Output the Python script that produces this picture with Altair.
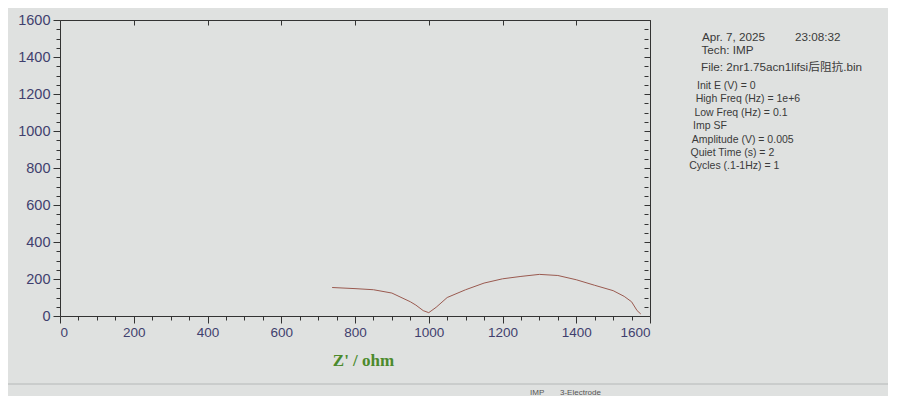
import altair as alt
import pandas as pd

# Nyquist data (Z' / ohm, -Z'' / ohm)
z_real = [738, 800, 850, 900, 950, 965, 985, 1000, 1020, 1050, 1100, 1150, 1200,
          1250, 1300, 1350, 1400, 1450, 1500, 1530, 1550, 1565, 1575]
z_imag = [154, 148, 142, 124, 77, 59, 29, 18, 47, 100, 142, 178, 201,
          214, 225, 219, 196, 166, 137, 106, 77, 29, 11]

tick_values = list(range(0, 1601, 50))
header_lines = ["Apr. 7, 2025", "Tech: IMP", "File: 2nr1.75acn1lifsi后阻抗.bin"]
time_text = "23:08:32"
param_lines = ["Init E (V) = 0", "High Freq (Hz) = 1e+6", "Low Freq (Hz) = 0.1", "Imp SF",
               "Amplitude (V) = 0.005", "Quiet Time (s) = 2", "Cycles (.1-1Hz) = 1"]
status_texts = ["IMP", "3-Electrode"]

df = pd.DataFrame({"zr": z_real, "zi": z_imag})

W, H = 590, 296
major = "datum.value % 200 === 0"
label_color = "#3f3f6e"
tsize = {"condition": {"test": major, "value": 7}, "value": 4}

x_scale = alt.Scale(domain=[0, 1600], nice=False, zero=False)
y_scale = alt.Scale(domain=[0, 1600], nice=False, zero=False)

main = alt.Chart(df).mark_line(color="#9a5a50", strokeWidth=1).encode(
    x=alt.X("zr:Q", scale=x_scale,
            axis=alt.Axis(values=tick_values, format="d",
                          labelExpr=f"{major} ? datum.label : ''",
                          tickSize=tsize, domain=False, grid=False,
                          tickColor="#333333", labelColor=label_color,
                          labelFont="Liberation Sans", labelFontSize=13.5,
                          labelPadding=2,
                          title="Z' / ohm", titleFont="Liberation Serif",
                          titleFontSize=17, titleFontWeight="bold",
                          titleColor="#4b8a2c", titlePadding=14, titleX=303)),
    y=alt.Y("zi:Q", scale=y_scale,
            axis=alt.Axis(values=tick_values, format="d",
                          labelExpr=f"{major} ? datum.label : ''",
                          tickSize=tsize, domain=False, grid=False,
                          tickColor="#333333", labelColor=label_color,
                          labelFont="Liberation Sans", labelFontSize=14.5,
                          labelPadding=3, title=None)),
    order=alt.Order("zr:Q"),
)

frame_axes = alt.Chart(df).mark_point(opacity=0).encode(
    x=alt.X("zr:Q", scale=x_scale,
            axis=alt.Axis(orient="top", values=tick_values[::4], labels=False,
                          tickSize=5, offset=-5, domain=False, grid=False,
                          tickColor="#333333", title=None)),
    y=alt.Y("zi:Q", scale=y_scale,
            axis=alt.Axis(orient="right", values=tick_values, labels=False,
                          tickSize={"condition": {"test": major, "value": 6}, "value": 4},
                          offset=-6, domain=False, grid=False,
                          tickColor="#333333", title=None)),
)

layers = [main, frame_axes]

txt_font = "Liberation Sans, Noto Sans CJK SC"
txt_color = "#3a3a3a"


def text_layer(s, x, y, size=11, color=txt_color):
    return alt.Chart(df.head(1)).mark_text(
        align="left", baseline="middle", font=txt_font, fontSize=size, color=color
    ).encode(text=alt.value(s), x=alt.value(x), y=alt.value(y))


header_y = [17, 30, 47]
for i, s in enumerate(header_lines):
    layers.append(text_layer(s, 642 - i * 0.5, header_y[i], size=11.7))
layers.append(text_layer(time_text, 735, 17, size=11.7))

for i, s in enumerate(param_lines):
    layers.append(text_layer(s, 637 - i * 1.3, 66 + i * 13.4, size=10.5))

layers.append(text_layer(status_texts[0], 470, 373, size=8, color="#555555"))
layers.append(text_layer(status_texts[1], 500, 373, size=8, color="#555555"))

layers.append(alt.Chart(df.head(1)).mark_rule(color="#b5b8b8", strokeWidth=1).encode(
    x=alt.value(-60), x2=alt.value(840), y=alt.value(364)))

chart = alt.layer(*layers).resolve_scale(
    x="independent", y="independent"
).properties(
    width=W, height=H,
    autosize=alt.AutoSizeParams(type="none"),
    padding={"left": 52, "top": 12, "right": 238, "bottom": 80},
    background="#dfe1e0",
).configure_view(
    stroke="#333333", strokeWidth=1, fill="#dfe1e0"
)

chart.save("out.html", embed_options={"renderer": "svg", "actions": False})
